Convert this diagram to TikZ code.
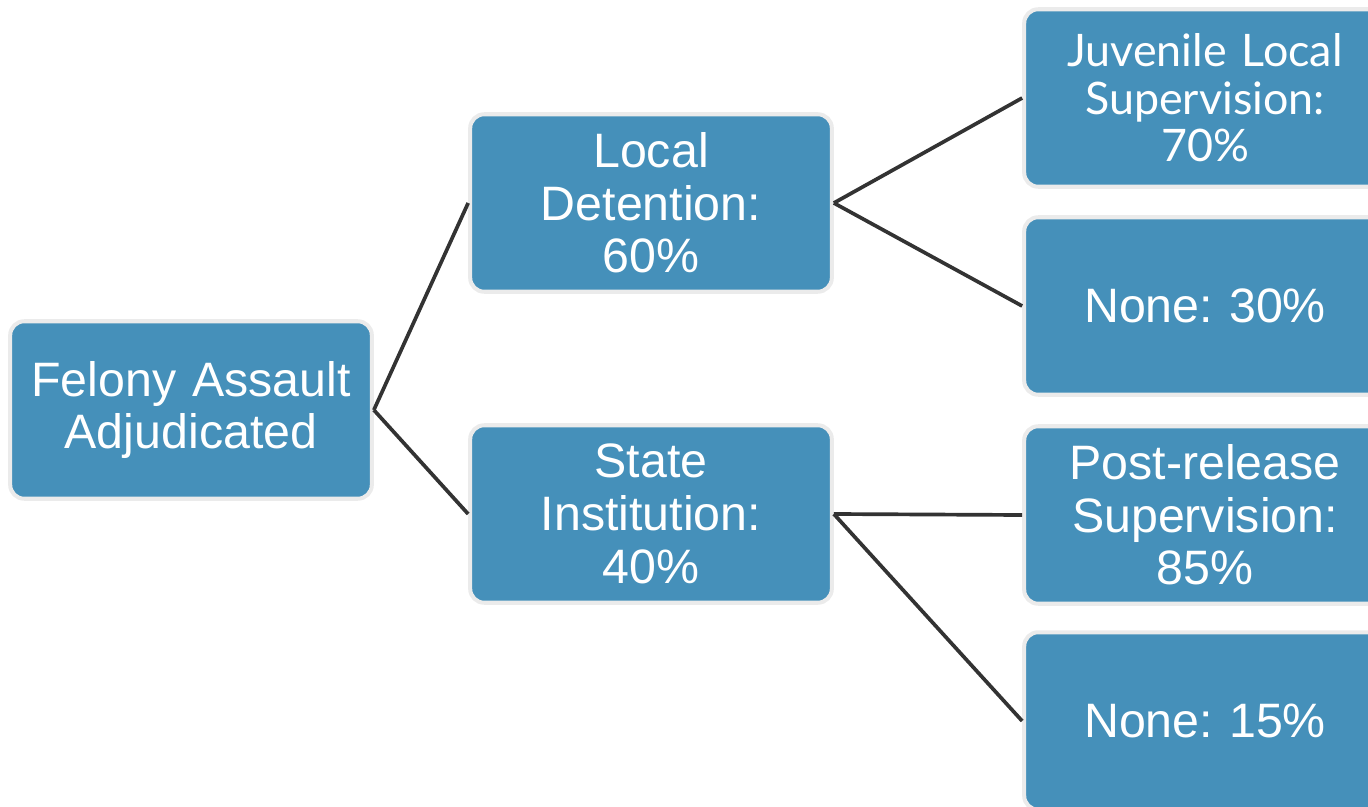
\documentclass[tikz,border=0pt]{standalone}
\usepackage{fontspec}
\setmainfont{Liberation Sans}
\newfontfamily\gillfont{Lato}
\usepackage{tikz}
\usetikzlibrary{shapes.geometric}
\definecolor{boxblue}{HTML}{4590BA}
\definecolor{boxrim}{HTML}{EBEBEB}
\definecolor{linkgray}{HTML}{333333}
\tikzstyle{box} = [rectangle, rounded corners=0.28cm, minimum width=7.2cm, minimum height=3.55cm, text width=7cm, align=center, draw=boxrim, line width=2.3pt, fill=boxblue, text=white, font=\frenchspacing\fontsize{27.5}{30}\selectfont]
\tikzstyle{link} = [line width=2.1pt, draw=linkgray]

\begin{document}
\begin{tikzpicture}[x=0.02cm, y=-0.02cm]
	\useasboundingbox (0,0) rectangle (1368,807);
	\clip (0,0) rectangle (1368,807);
	\node (felony) [box] at (191,410) {Felony Assault\\Adjudicated};
	\node (local) [box] at (651,203) {Local\\Detention:\\60\%};
	\node (state) [box] at (651,514) {State\\Institution:\\40\%};
	\node (juvenile) [box, font=\gillfont\fontsize{25.5}{27}\selectfont] at (1205,98) {Juvenile Local\\Supervision:\\70\%};
	\node (noneA) [box] at (1205,306) {None: 30\%};
	\node (postrel) [box] at (1205,515) {Post-release\\Supervision:\\85\%};
	\node (noneB) [box] at (1205,721) {None: 15\%};
	\draw [link] (felony.east) -- (local.west);
	\draw [link] (felony.east) -- (state.west);
	\draw [link] (local.east) -- (juvenile.west);
	\draw [link] (local.east) -- (noneA.west);
	\draw [link] (state.east) -- (postrel.west);
	\draw [link] (state.east) -- (noneB.west);
\end{tikzpicture}
\end{document}
